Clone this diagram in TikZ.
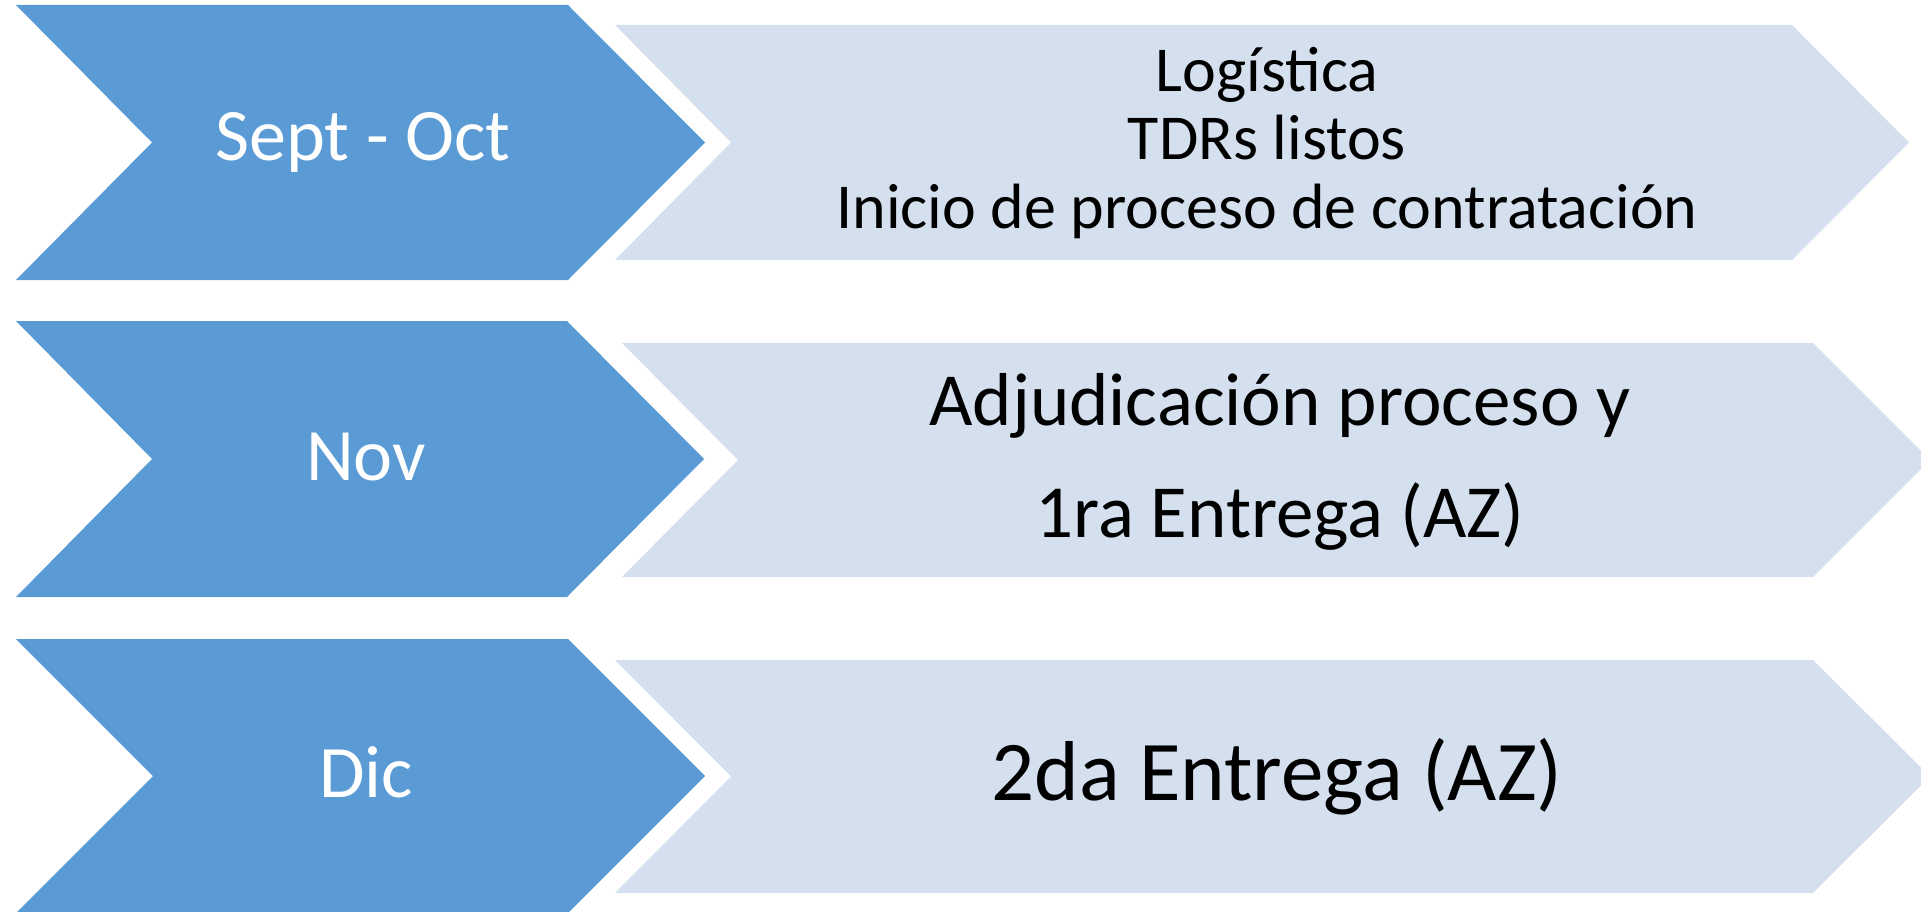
\documentclass[tikz,border=0pt]{standalone}
\usepackage{fontspec}
\setmainfont{Carlito}
\definecolor{darkblue}{HTML}{5B9BD5}
\definecolor{lightblue}{RGB}{213,224,239}
\begin{document}
\begin{tikzpicture}[x=1pt,y=-1pt,
  monthtext/.style={text=white,anchor=base,inner sep=0pt,font=\fontsize{74}{88}\selectfont},
  smalltext/.style={text=black,anchor=base,inner sep=0pt,font=\fontsize{64}{76}\selectfont},
  midtext/.style={text=black,anchor=base,inner sep=0pt,font=\fontsize{75}{90}\selectfont},
  bigtext/.style={text=black,anchor=base,inner sep=0pt,font=\fontsize{85}{100}\selectfont}]
\useasboundingbox (0,0) rectangle (1921,912);
\clip (0,0) rectangle (1921,912);
% dark chevrons
\fill[darkblue] (16,5) -- (568,5) -- (705,142.5) -- (568,280) -- (16,280) -- (152,142.5) -- cycle;
\fill[darkblue] (16,321) -- (567,321) -- (704,459) -- (567,597) -- (16,597) -- (152,459) -- cycle;
\fill[darkblue] (16,639) -- (568,639) -- (705,776) -- (568,913) -- (16,913) -- (153,776) -- cycle;
% light arrows
\fill[lightblue] (615,25) -- (1792,25) -- (1909,142.5) -- (1792,260) -- (615,260) -- (731,142.5) -- cycle;
\fill[lightblue] (622,343) -- (1813,343) -- (1930,460) -- (1813,577) -- (622,577) -- (738,460) -- cycle;
\fill[lightblue] (615,660) -- (1813,660) -- (1930,776.5) -- (1813,893) -- (615,893) -- (731,776.5) -- cycle;
% month labels
\node[monthtext] (m1) at (363,161) {Sept - Oct};
\node[monthtext] (m2) at (366,480) {Nov};
\node[monthtext] (m3) at (366,797) {Dic};
% descriptions
\node[smalltext] (d1a) at (1267,92) {Logística};
\node[smalltext] (d1b) at (1267,160) {TDRs listos};
\node[smalltext] (d1c) at (1267,228) {Inicio de proceso de contratación};
\node[midtext] (d2a) at (1280,425) {Adjudicación proceso y};
\node[midtext] (d2b) at (1280,537) {1ra Entrega (AZ)};
\node[bigtext] (d3) at (1277,800) {2da Entrega (AZ)};
\end{tikzpicture}
\end{document}
